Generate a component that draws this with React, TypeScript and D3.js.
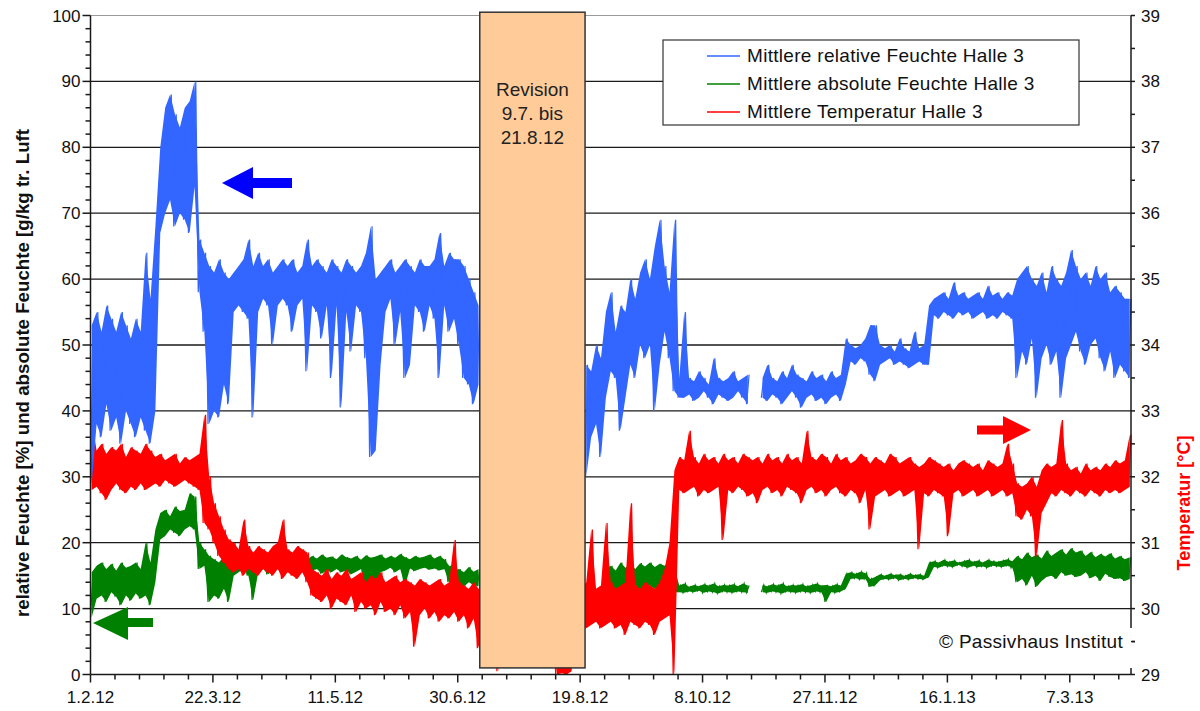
import * as d3 from "d3";

const DAY = 864e5;
const startDate = new Date(Date.UTC(2012, 1, 1));
const endDate = new Date(Date.UTC(2013, 3, 1));
// every entry covers two days: the low of the pair on day 2i, the high on day 2i+1
const stepDays = 2;

const xTickLabels = ["1.2.12", "22.3.12", "11.5.12", "30.6.12", "19.8.12", "8.10.12", "27.11.12", "16.1.13", "7.3.13"];
const leftTicks = [0, 10, 20, 30, 40, 50, 60, 70, 80, 90, 100];
const rightTicks = [29, 30, 31, 32, 33, 34, 35, 36, 37, 38, 39];
const revision = { from: "9.7.12", to: "21.8.12" };

const legendItems = [
  { label: "Mittlere relative Feuchte Halle 3", color: "#3366ff" },
  { label: "Mittlere absolute Feuchte Halle 3", color: "#008000" },
  { label: "Mittlere Temperatur Halle 3", color: "#ff0000" },
];

// relative humidity [%]
const rhLow = [
  29, 38, 36, 41, 37, 39, 35, 40, 38, 36,
  39, 37, 35, 40, 67, 70, 72, 68, 70, 69,
  67, 74, 58, 52, 38, 40, 39, 44, 41, 55,
  56, 55, 54, 39, 55, 57, 56, 50, 56, 57,
  56, 52, 56, 57, 46, 56, 55, 51, 56, 45,
  56, 40.5, 55, 49, 56, 55, 48, 33, 34, 47,
  55, 57, 50, 55, 45, 47, 56, 55, 52, 56,
  54, 45, 56, 52, 54, 50, 45, 44, 41, 44,
  null, null, null, null, null, null, null, null, null, null,
  null, null, null, null, null, null, null, null, null, null,
  null, 30, 36, 38, 33, 42, 46, 45, 37, 42,
  47, 45, 50, 48, 50, 40, 47, 52, 48, 43,
  42, 42, 42.5, 41.5, 42, 43, 42, 41, 42.5, 42,
  41.5, 42, 43, 42, 41, null, null, 42, 41.5, 42.5,
  42, 41, 42, 43, 42, 40.5, 42, 42.5, 41.5, 42,
  41, 42, 42.5, 41.5, 44, 47.5, 47, 48, 47.5, 45.5,
  44.5, 47, 47.5, 48, 47, 47.5, 47, 46.5, 47, 47.5,
  47, 47, 54.5, 54, 55, 54.5, 54, 55, 54.5, 55,
  54, 54.5, 55, 54, 54.5, 54, 55, 54.5, 54, 45,
  49, 47, 51, 42, 48, 50, 47, 49, 42, 48,
  50, 52, 49, 47, 50, 51, 48, 46, 49, 45,
  47, 46, 45,
];
const rhHigh = [
  53, 55, 52, 56, 54, 52, 55, 53, 51, 54,
  52, 64, 57, 68, 80, 86, 88, 85, 83, 86,
  87, 90, 66, 64, 62, 61, 63, 61, 60, 61,
  62, 63, 66, 62, 64, 62, 63, 61, 62, 63,
  62, 63, 61, 62, 66, 62, 63, 62, 61, 63,
  62, 61, 63, 62, 61, 62, 64, 68, 60, 61,
  62, 63, 61, 62, 63, 62, 61, 63, 62, 62,
  63, 67, 62, 64, 63, 63, 62, 60, 58, 56,
  null, null, null, null, null, null, null, null, null, null,
  null, null, null, null, null, null, null, null, null, null,
  null, 47, 46, 50, 48, 55, 58, 52, 56, 55,
  60, 57, 61, 63, 60, 65, 69, 62, 58, 69,
  45, 55, 45, 44.5, 46, 45, 44, 48, 45, 44.5,
  45, 46, 44.5, 45, 45.5, null, null, 45, 47, 45,
  44.5, 46, 45, 47, 45.5, 45, 44.5, 46, 45, 45.5,
  44.5, 46, 45, 45.5, 51, 50, 49.5, 50, 51, 53,
  53, 50, 49.5, 50, 49, 51, 49.5, 49, 52, 49.5,
  50, 56, 57, 57.5, 58, 57, 59.5, 57.5, 58, 57,
  57.5, 58, 57, 59, 57.5, 58, 57, 58, 57.5, 60,
  61, 62, 60, 59, 61, 58, 62, 60, 59, 61,
  64.4, 62, 60, 61, 59, 62, 60, 61, 58, 59,
  58, 57, 57,
];

// absolute humidity [g/kg]
const ahLow = [
  8.7, 11.5, 12, 11, 12.5, 11.8, 10.5, 12, 11.2, 12.3,
  11.5, 12, 10.5, 14, 20.5, 21, 22, 21.5, 21, 22,
  22.5, 22, 16, 16.5, 11, 12, 11.5, 13, 11, 15,
  15.5, 16, 15, 11.3, 15.5, 16, 15.2, 15.8, 16, 15.5,
  15.8, 15.2, 16, 15.5, 15, 15.8, 16, 15.3, 15.8, 15.5,
  16, 15.5, 15.8, 15.2, 15.6, 16, 12, 11, 12.5, 15.5,
  15.8, 16.2, 15.5, 16, 13.5, 16.1, 15.7, 16, 16.2, 15.9,
  16.1, 15.8, 16, 14, 13.5, 13.8, 13.3, 14, 13.6, 13.4,
  null, null, null, null, null, null, null, null, null, null,
  null, null, null, null, null, null, null, null, null, null,
  null, 8.5, 9.5, 9, 9.2, 12.5, 13, 12.8, 13.2, 12.5,
  13, 13.5, 12.8, 13.2, 13.5, 13, 13.4, 12.9, 13.2, 12.5,
  12.5, 12.4, 12.6, 12.5, 12.7, 12.4, 12.6, 12.5, 12.3, 12.6,
  12.5, 12.4, 12.6, 12.5, 12.4, null, null, 12.5, 12.4, 12.6,
  12.5, 12.3, 12.6, 12.5, 12.4, 12.6, 12.5, 12.4, 12.6, 12.5,
  11, 12.5, 12.4, 12.6, 13, 14.5, 14.6, 14.4, 14.5, 13.3,
  13.5, 14.3, 14.5, 14.4, 14.6, 14.3, 14.5, 14.4, 14.6, 14.5,
  14.4, 14.8, 16.3, 16.2, 16.5, 16.4, 16.3, 16.6, 16.4, 16.2,
  16.5, 16.3, 16.4, 16.2, 16.5, 16.4, 16.3, 16.5, 16.2, 14,
  14.5, 13.5, 15, 13.3, 14.2, 14.8, 15, 14.5, 15.5, 15,
  15.2, 14.8, 15, 15.5, 14.6, 15, 14.2, 15.3, 14.8, 14.5,
  14.6, 14.2, 14.5,
];
const ahHigh = [
  15.5, 16.5, 17, 16, 16.8, 15.8, 17, 16.2, 16.5, 17,
  16, 20, 17, 22, 24.5, 25, 24, 25.5, 24.8, 25,
  27.5, 27, 20, 19, 18, 17.5, 17, 18, 17, 17.8,
  18, 17.5, 18.2, 17, 17.6, 18, 17.4, 18.2, 17.8, 17.5,
  18, 17.6, 18.3, 17.8, 17.5, 18, 17.6, 18.2, 17.7, 17.9,
  17.5, 18.2, 17.8, 17.6, 18, 17.4, 18.1, 17.7, 17.9, 18.2,
  17.6, 18, 17.7, 18.3, 17.8, 17.5, 18, 17.7, 17.9, 18.2,
  17.6, 18, 17.5, 16.5, 15.8, 16, 15.5, 16.3, 15.6, 16,
  null, null, null, null, null, null, null, null, null, null,
  null, null, null, null, null, null, null, null, null, null,
  null, 12, 12.5, 11, 12.5, 16, 16.5, 15.8, 17, 16.2,
  16.8, 16, 16.9, 16.4, 17, 16.3, 16.8, 16.5, 17, 16,
  13.5, 13.8, 13.3, 13.6, 13.4, 13.7, 13.5, 13.8, 13.4, 13.6,
  13.5, 13.7, 13.4, 13.8, 13.5, null, null, 13.6, 13.4, 13.7,
  13.5, 13.8, 13.4, 13.6, 13.5, 13.7, 13.4, 13.6, 13.8, 13.5,
  13.6, 13.4, 13.7, 13.5, 15.3, 15.5, 15.3, 15.6, 15.4, 14.5,
  14.8, 15.2, 15, 15.3, 15.1, 15.2, 15, 15.3, 15.1, 15.2,
  15, 17, 17.2, 17, 17.4, 17.1, 17.3, 17, 17.2, 17.4,
  17.1, 17.3, 17, 17.4, 17.2, 17.1, 17.3, 17.5, 17.2, 18,
  17.5, 18.5, 17.8, 18.2, 17.6, 18.8, 18, 18.5, 19, 18.2,
  19.2, 18.5, 18.8, 18, 18.6, 17.8, 18.3, 17.9, 18.4, 17.6,
  18, 17.5, 17.8,
];

// temperature [°C], right axis
const tLow = [
  31.8, 31.85, 31.75, 31.65, 31.8, 31.9, 31.8, 31.75, 31.85, 31.8,
  31.9, 31.8, 31.85, 31.9, 31.85, 31.95, 31.9, 31.85, 31.9, 31.95,
  31.9, 31.85, 31.8, 31.3, 31.2, 31.0, 30.8, 30.7, 30.6, 30.55,
  30.6, 30.5, 30.6, 30.55, 30.5, 30.6, 30.55, 30.5, 30.6, 30.45,
  30.55, 30.5, 30.45, 30.55, 30.4, 30.2, 30.15, 30.1, 30.2, 30.0,
  30.15, 30.1, 30.05, 30.2, 29.95, 30.1, 30.0, 30.05, 29.9, 30.1,
  29.95, 30.0, 29.9, 30.05, 29.85, 29.95, 29.42, 29.9, 30.0, 29.85,
  29.95, 29.8, 29.9, 29.85, 29.95, 29.8, 29.9, 29.7, 29.85, 29.4,
  29.9, 29.95, 29.9, 29.05, 29.9, 29.95, 29.9, 29.85, 29.9, 29.95,
  29.9, 29.85, 29.9, 29.95, 29.9, 29.0, 29.02, 29.0, 29.05, 29.9,
  29.8, 29.7, 29.75, 29.8, 29.7, 29.75, 29.8, 29.7, 29.75, 29.6,
  29.8, 29.75, 29.7, 29.8, 29.75, 29.6, 29.8, 29.85, 29.9, 29.0,
  31.8, 31.75, 31.8, 31.85, 31.7, 31.8, 31.75, 31.8, 31.85, 31.04,
  31.8, 31.75, 31.85, 31.8, 31.7, 31.75, 31.6, 31.8, 31.85, 31.75,
  31.8, 31.7, 31.85, 31.8, 31.75, 31.6, 31.8, 31.85, 31.75, 31.8,
  31.7, 31.8, 31.85, 31.75, 31.7, 31.8, 31.75, 31.6, 31.8, 31.2,
  31.7, 31.75, 31.8, 31.7, 31.75, 31.8, 31.7, 31.75, 31.8, 30.9,
  31.75, 31.7, 31.8, 31.75, 31.7, 31.1, 31.75, 31.8, 31.7, 31.75,
  31.8, 31.7, 31.75, 31.8, 31.7, 31.75, 31.8, 31.7, 31.75, 31.4,
  31.35, 31.5, 31.4, 30.77, 31.45, 31.6, 31.75, 31.7, 31.8, 31.75,
  31.7, 31.8, 31.75, 31.7, 31.8, 31.75, 31.7, 31.8, 31.75, 31.8,
  31.75, 31.8, 31.85,
];
const tHigh = [
  32.86, 32.4, 32.5, 32.35, 32.45, 32.4, 32.5, 32.3, 32.45, 32.4,
  32.35, 32.5, 32.4, 32.3, 32.35, 32.25, 32.3, 32.35, 32.2, 32.3,
  32.25, 32.3, 32.35, 32.94, 32.0, 31.6, 31.4, 31.2, 31.05, 31.0,
  30.9, 31.35, 30.95, 30.85, 30.95, 30.9, 30.85, 30.95, 31.0, 31.35,
  30.9, 30.85, 30.95, 30.9, 30.85, 30.6, 30.55, 30.5, 30.6, 30.45,
  30.55, 30.5, 30.6, 30.45, 30.5, 30.55, 30.4, 30.5, 30.45, 30.55,
  30.4, 30.45, 30.5, 30.4, 30.45, 30.4, 30.35, 30.45, 30.4, 30.35,
  30.4, 30.45, 30.35, 30.4, 31.04, 30.4, 30.35, 30.3, 30.4, 30.3,
  30.3, 30.35, 30.3, 30.4, 30.3, 30.35, 30.3, 30.4, 30.3, 30.35,
  30.3, 30.35, 30.3, 30.4, 30.3, 30.35, 30.3, 30.4, 30.3, 30.35,
  30.3, 30.4, 31.2, 30.3, 30.35, 31.3, 30.4, 30.3, 30.35, 30.4,
  31.6, 30.35, 30.3, 30.4, 30.35, 30.3, 30.4, 30.6, 31.0, 32.1,
  32.3, 32.25, 32.7, 32.3, 32.2, 32.35, 32.25, 32.3, 32.2, 32.35,
  32.25, 32.3, 32.2, 32.35, 32.3, 32.25, 32.3, 32.2, 32.35, 32.25,
  32.3, 32.2, 32.35, 32.25, 32.3, 32.2, 32.7, 32.3, 32.25, 32.35,
  32.3, 32.2, 32.35, 32.25, 32.3, 32.2, 32.25, 32.35, 32.3, 32.2,
  32.3, 32.25, 32.2, 32.35, 32.3, 32.2, 32.25, 32.3, 32.2, 32.15,
  32.2, 32.3, 32.25, 32.2, 32.15, 32.2, 32.1, 32.2, 32.25, 32.2,
  32.15, 32.2, 32.1, 32.25, 32.2, 32.15, 32.2, 32.5, 32.2, 31.9,
  31.85, 31.9, 32.0, 31.85, 32.1, 32.2, 32.15, 32.2, 32.86, 32.2,
  32.1, 32.15, 32.05, 32.2, 32.1, 32.15, 32.1, 32.2, 32.15, 32.25,
  32.2, 32.25, 32.64,
];

const font = "'Liberation Sans', Arial, sans-serif";

export default function App() {
  const left = 90.5, right = 1131, top = 15.5, bottom = 674.5;
  const parse = d3.utcParse("%d.%m.%y");

  const x = d3.scaleUtc().domain([startDate, endDate]).range([left, right]);
  const y = d3.scaleLinear().domain([0, 100]).range([bottom, top]);
  const yT = d3.scaleLinear().domain([29, 39]).range([bottom, top]);

  const dayDate = (d: number) => new Date(+startDate + d * DAY);

  // low/high pairs -> one zigzag line
  const zigzag = (lo: (number | null)[], hi: (number | null)[], scale: (v: number) => number) => {
    const pts: [number, number | null][] = [];
    lo.forEach((v, i) => {
      pts.push([i * stepDays, v]);
      pts.push([i * stepDays + 1, hi[i]]);
    });
    return d3
      .line<[number, number | null]>()
      .defined((d) => d[1] != null)
      .x((d) => x(dayDate(d[0])))
      .y((d) => scale(d[1] as number))(pts) as string;
  };

  // the same pairs as a filled band, so the dense noise reads as solid
  const band = (lo: (number | null)[], hi: (number | null)[], scale: (v: number) => number) =>
    d3
      .area<number>()
      .defined((i) => lo[i] != null && hi[i] != null)
      .x((i) => x(dayDate(i * stepDays + 0.5)))
      .y0((i) => scale(lo[i] as number))
      .y1((i) => scale(hi[i] as number))(d3.range(lo.length)) as string;

  const series = [
    { lo: ahLow, hi: ahHigh, scale: y, color: "#008000" },
    { lo: tLow, hi: tHigh, scale: yT, color: "#ff0000" },
    { lo: rhLow, hi: rhHigh, scale: y, color: "#3366ff" },
  ];

  const minorX = d3.range(0, 426, 10).map(dayDate);
  const majorX = xTickLabels.map((s) => parse(s) as Date);
  const minorLeft = d3.range(0, 101, 2);
  const minorRight = d3.range(29, 39.01, 0.5);

  const revX0 = x(parse(revision.from) as Date);
  const revX1 = x(parse(revision.to) as Date);

  return (
    <svg
      width={1200}
      height={711}
      style={{ position: "absolute", left: 0, top: 0, background: "#fff" }}
      fontFamily={font}
    >
      <defs>
        <clipPath id="titleClip">
          <rect x={0} y={86} width={60} height={614} />
        </clipPath>
      </defs>
      <rect width={1200} height={711} fill="#fff" />

      {/* grid */}
      {leftTicks.slice(1, -1).map((t) => (
        <line key={t} x1={left} x2={right} y1={y(t)} y2={y(t)} stroke="#1a1a1a" strokeWidth={1.3} />
      ))}
      <line x1={left} x2={right} y1={y(100)} y2={y(100)} stroke="#9a9a9a" strokeWidth={1} />

      {/* series */}
      {series.map((s, k) => (
        <g key={k}>
          <path d={band(s.lo, s.hi, s.scale)} fill={s.color} />
          <path d={zigzag(s.lo, s.hi, s.scale)} fill="none" stroke={s.color} strokeWidth={1.2} />
        </g>
      ))}

      {/* revision period */}
      <rect
        x={revX0}
        y={y(100.5)}
        width={revX1 - revX0}
        height={y(1) - y(100.5)}
        fill="#ffcc99"
        stroke="#333"
        strokeWidth={1.5}
      />
      <g fontSize={19} textAnchor="middle" fill="#222">
        <text x={(revX0 + revX1) / 2} y={96}>Revision</text>
        <text x={(revX0 + revX1) / 2} y={120}>9.7. bis</text>
        <text x={(revX0 + revX1) / 2} y={144}>21.8.12</text>
      </g>

      {/* arrows */}
      <polygon points="222,183 253,167 253,178 292,178 292,188 253,188 253,199" fill="#0000ff" />
      <polygon points="93,623 128,607 128,618 153,618 153,627 128,627 128,640" fill="#008000" />
      <polygon points="1031,430 1003,416 1003,425.5 977,425.5 977,434.5 1003,434.5 1003,444" fill="#ff0000" />

      {/* axes */}
      <g stroke="#1a1a1a" strokeWidth={1.5}>
        <line x1={left} x2={left} y1={top} y2={bottom} />
        <line x1={right} x2={right} y1={top} y2={bottom} />
        <line x1={left} x2={right} y1={bottom} y2={bottom} />
        {minorLeft.map((t) => (
          <line key={"l" + t} x1={left - (t % 10 === 0 ? 8 : 5)} x2={left} y1={y(t)} y2={y(t)} />
        ))}
        {minorRight.map((t) => (
          <line key={"r" + t} x1={right} x2={right + 4} y1={yT(t)} y2={yT(t)} />
        ))}
        {minorX.map((d, i) => (
          <line key={"x" + i} x1={x(d)} x2={x(d)} y1={bottom} y2={bottom + (i % 5 === 0 ? 8 : 5)} />
        ))}
      </g>

      <g fontSize={17} fill="#111">
        {leftTicks.map((t) => (
          <text key={t} x={left - 10} y={y(t) + 6} textAnchor="end">{t}</text>
        ))}
        {rightTicks.map((t) => (
          <text key={t} x={right + 10} y={yT(t) + 6}>{t}</text>
        ))}
        {majorX.map((d, i) => (
          <text key={i} x={x(d)} y={703} textAnchor="middle">{xTickLabels[i]}</text>
        ))}
      </g>

      {/* axis titles */}
      <g clipPath="url(#titleClip)">
        <text
          transform="translate(28.5,617) rotate(-90)"
          fontSize={18.7}
          fontWeight="bold"
          fill="#111"
        >
          relative Feuchte [%] und absolute Feuchte [g/kg tr. Luft
        </text>
      </g>
      <text
        transform="translate(1190,503) rotate(-90)"
        fontSize={18}
        fontWeight="bold"
        fill="#ff0000"
        textAnchor="middle"
      >
        Temperatur [°C]
      </text>

      {/* legend */}
      <rect x={663} y={40} width={416} height={85} fill="#fff" stroke="#333" strokeWidth={1.2} />
      {legendItems.map((it, i) => (
        <g key={it.label}>
          <line x1={707} x2={740} y1={56 + i * 28} y2={56 + i * 28} stroke={it.color} strokeWidth={1.5} />
          <text x={747} y={62 + i * 28} fontSize={19} letterSpacing={0.3} fill="#111">{it.label}</text>
        </g>
      ))}

      {/* copyright */}
      <rect x={928} y={628} width={204} height={40} fill="#fff" />
      <text x={1123} y={648} fontSize={19} letterSpacing={0.3} textAnchor="end" fill="#111">© Passivhaus Institut</text>
      <line x1={right} x2={right + 4} y1={yT(29.5)} y2={yT(29.5)} stroke="#1a1a1a" strokeWidth={1.5} />
    </svg>
  );
}
